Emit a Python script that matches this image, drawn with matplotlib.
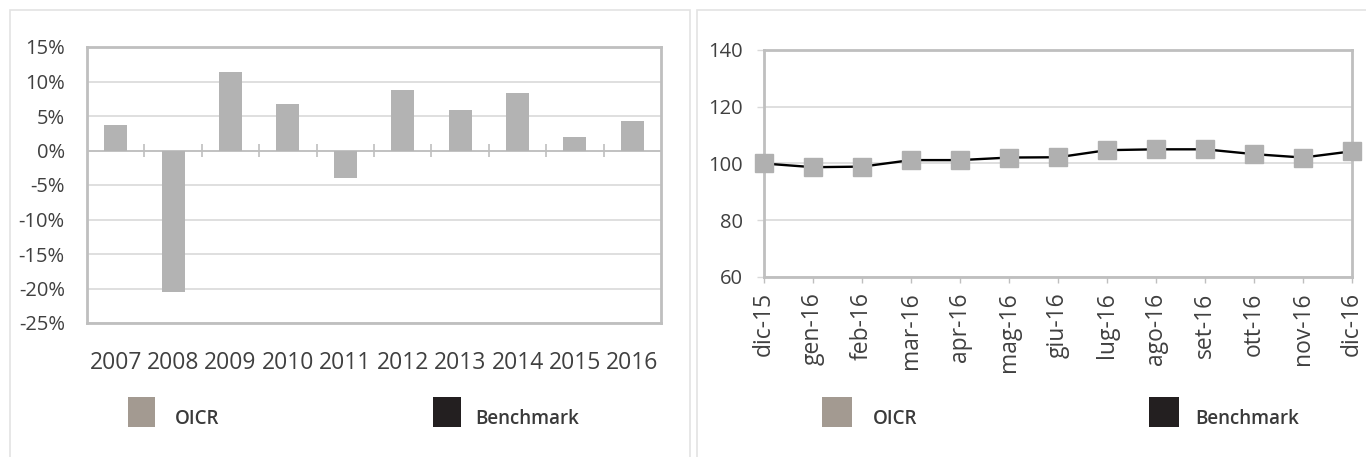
import numpy as np
import matplotlib
matplotlib.use("Agg")
from matplotlib import pyplot as plt
from matplotlib.patches import Rectangle

plt.rcParams['font.family'] = ['Open Sans', 'DejaVu Sans']

# data
years = ['2007', '2008', '2009', '2010', '2011', '2012', '2013', '2014', '2015', '2016']
annual_ret = [3.7, -20.5, 11.4, 6.8, -4.0, 8.8, 5.9, 8.3, 2.0, 4.3]

months = ['dic-15', 'gen-16', 'feb-16', 'mar-16', 'apr-16', 'mag-16', 'giu-16',
          'lug-16', 'ago-16', 'set-16', 'ott-16', 'nov-16', 'dic-16']
oicr_idx = [100.0, 98.7, 98.9, 101.2, 101.2, 102.1, 102.2, 104.7, 105.0, 105.0, 103.3, 102.1, 104.3]
bench_idx = [100.0, 98.7, 98.9, 101.2, 101.2, 102.1, 102.2, 104.7, 105.0, 105.0, 103.3, 102.1, 104.3]

legend_labels = ['OICR', 'Benchmark']
legend_colors = ['#a39a91', '#231f20']

W, H = 1366, 457
fig = plt.figure(figsize=(W / 100, H / 100), dpi=100)
fig.patch.set_facecolor('white')

def fx(px):
    return px / W

def fy(py):
    return 1 - py / H

frame_col = '#bfbfbf'
grid_col = '#d9d9d9'
text_col = '#404040'

# panel borders
for x0, x1 in [(10, 690), (697, 1370)]:
    fig.add_artist(Rectangle((fx(x0), fy(470)), fx(x1) - fx(x0), fy(10) - fy(470),
                             transform=fig.transFigure, fill=False,
                             edgecolor='#e3e3e3', lw=1.2))

# ---- left chart: annual returns
ax1 = fig.add_axes([fx(87), fy(323), fx(661) - fx(87), fy(47) - fy(323)])
x = np.arange(len(years))
ax1.bar(x, annual_ret, width=0.4, color='#b3b3b3', zorder=3)
ax1.set_xlim(-0.5, len(years) - 0.5)
ax1.set_ylim(-25, 15)
ax1.set_yticks(np.arange(-25, 16, 5))
ax1.set_yticklabels([f'{v}%' for v in range(-25, 16, 5)])
ax1.yaxis.grid(True, color=grid_col, lw=1.2, zorder=0)
ax1.axhline(0, color=frame_col, lw=1.3, zorder=2)
ax1.vlines(x[1:] - 0.5, -1, 1, color=frame_col, lw=1.2, zorder=2)
ax1.set_xticks(x)
ax1.set_xticklabels(years)
ax1.tick_params(axis='x', length=0, pad=20, labelsize=16.5, colors=text_col)
ax1.tick_params(axis='y', length=0, pad=16, labelsize=14.5, colors=text_col)
for s in ax1.spines.values():
    s.set_color(frame_col)
    s.set_linewidth(2)

# ---- right chart: index
ax2 = fig.add_axes([fx(764), fy(277), fx(1352) - fx(764), fy(50) - fy(277)])
xm = np.arange(len(months))
ax2.plot(xm, bench_idx, color='black', lw=1.7, zorder=3, clip_on=False)
ax2.plot(xm, oicr_idx, ls='none', marker='s', ms=12.5, color='#b0b0b0', zorder=4, clip_on=False)
ax2.set_xlim(0, len(months) - 1)
ax2.set_ylim(60, 140)
ax2.set_yticks(np.arange(60, 141, 20))
ax2.yaxis.grid(True, color=grid_col, lw=1.2, zorder=0)
ax2.set_xticks(xm)
ax2.set_xticklabels(months, rotation=90)
ax2.tick_params(axis='x', length=4, width=1, pad=7, labelsize=16.5, labelcolor=text_col, color=frame_col)
ax2.tick_params(axis='y', length=5, width=1, color=grid_col, pad=10, labelsize=14.5, labelcolor=text_col)
for s in ax2.spines.values():
    s.set_color(frame_col)
    s.set_linewidth(2)

# ---- legends (bottom of each panel)
legend_pos = [
    [(128, 155, 175), (433, 461, 475)],
    [(822, 852, 873), (1149, 1179, 1195)],
]
for row in legend_pos:
    for (sx0, sx1, tx), lab, col in zip(row, legend_labels, legend_colors):
        fig.add_artist(Rectangle((fx(sx0), fy(427)), fx(sx1) - fx(sx0), fy(397) - fy(427),
                                 transform=fig.transFigure, facecolor=col, edgecolor='none'))
        fig.text(fx(tx), fy(419), lab, fontsize=13.5, fontweight='semibold',
                 color='#3a3a3a', va='center', ha='left',
                 family=['Liberation Sans Narrow', 'Open Sans', 'DejaVu Sans'])

fig.savefig('out.png', dpi=100)
